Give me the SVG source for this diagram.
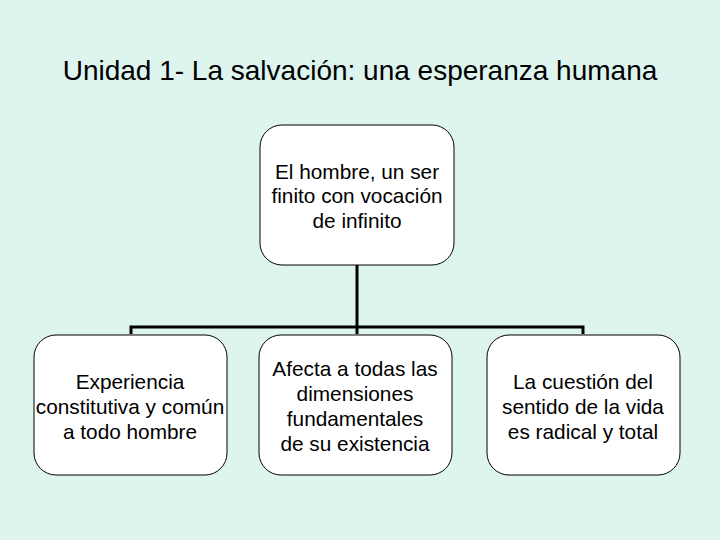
<svg xmlns="http://www.w3.org/2000/svg" width="720" height="540" viewBox="0 0 720 540">
<style>
.b{fill:#fff;stroke:#000;stroke-width:1}
text{font-family:"Liberation Sans",Arial,sans-serif;font-size:20.8px;text-anchor:middle;fill:#000}
.c{fill:none;stroke:#000;stroke-width:3}
</style>
<rect width="720" height="540" fill="#DDF4EF"/>
<text x="360" y="80" style="font-size:28px">Unidad 1- La salvación: una esperanza humana</text>
<g id="connectors">
<path class="c" d="M357 265V334M131 334V327H583V334"/>
</g>
<g id="n0"><rect class="b" x="260" y="125" width="194" height="140" rx="22"/>
<text x="357" y="179">El hombre, un ser</text>
<text x="357" y="203">finito con vocación</text>
<text x="357" y="228">de infinito</text></g>
<g id="n1"><rect class="b" x="34" y="335" width="193" height="140" rx="22"/>
<text x="130" y="389">Experiencia</text><text x="130" y="414">constitutiva y común</text><text x="130" y="439">a todo hombre</text></g>
<g id="n2"><rect class="b" x="259" y="335" width="193" height="140" rx="22"/>
<text x="355" y="376">Afecta a todas las</text><text x="355" y="401">dimensiones</text><text x="355" y="426">fundamentales</text><text x="355" y="451">de su existencia</text></g>
<g id="n3"><rect class="b" x="487" y="335" width="193" height="140" rx="22"/>
<text x="583" y="389">La cuestión del</text><text x="583" y="414">sentido de la vida</text><text x="583" y="439">es radical y total</text></g>
</svg>
